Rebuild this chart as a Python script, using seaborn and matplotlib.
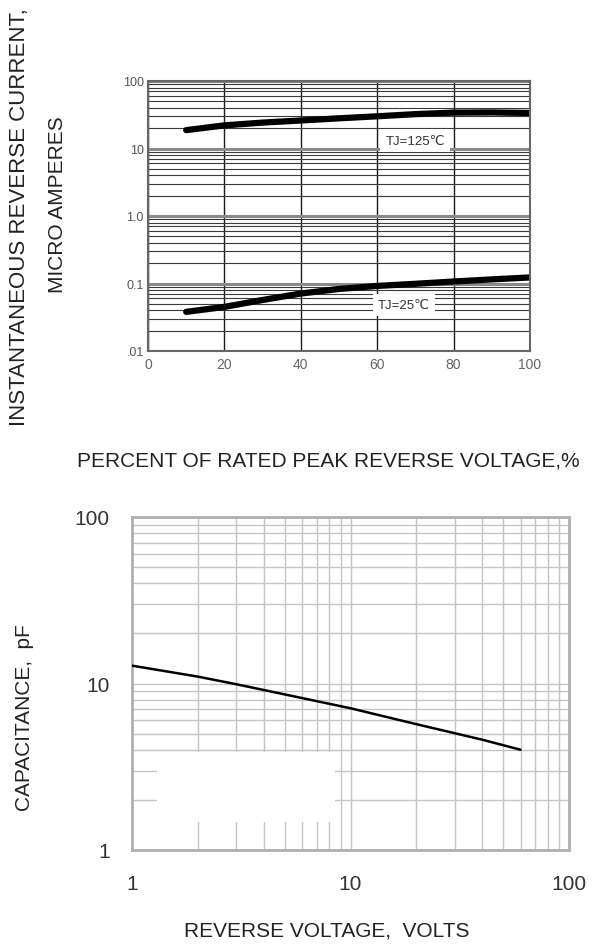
import numpy as np
import pandas as pd
import matplotlib
matplotlib.use("Agg")
import matplotlib.pyplot as plt
import matplotlib.ticker as mticker
from matplotlib.patches import Rectangle
import seaborn as sns

# ---------------- data ----------------
pct_voltage = [10, 20, 30, 40, 50, 60, 70, 80, 90, 100]
ir_125c = [18.7, 22.0, 24.2, 26.0, 28.0, 30.0, 32.3, 34.0, 34.2, 33.6]
ir_25c = [0.038, 0.045, 0.057, 0.071, 0.083, 0.092, 0.099, 0.107, 0.115, 0.123]

rev_voltage = [1, 2, 3, 5, 10, 20, 40, 60]
capacitance = [12.8, 11.0, 9.9, 8.6, 7.1, 5.7, 4.6, 4.0]

top_yticks = [0.01, 0.1, 1, 10, 100]
top_yticklabels = [".01", "0.1", "1.0", "10", "100"]
top_xticks = [0, 20, 40, 60, 80, 100]
bot_ticks = [1, 10, 100]
bot_ticklabels = ["1", "10", "100"]

label_125 = "TJ=125\u2103"
label_25 = "TJ=25\u2103"

# ---------------- style ----------------
sns.set_theme(style="white")
plt.rcParams["font.family"] = ["Liberation Sans", "DejaVu Sans"]

W, H = 594, 945
fig = plt.figure(figsize=(W / 100, H / 100), dpi=100)


def ax_rect(x0, y0, x1, y1):
    return [x0 / W, 1 - y1 / H, (x1 - x0) / W, (y1 - y0) / H]


# ---------------- top chart ----------------
ax1 = fig.add_axes(ax_rect(148, 82, 530, 352))
ax1.set_yscale("log")
ax1.set_xlim(0, 100)
ax1.set_ylim(0.01, 100)
ax1.set_axisbelow(True)

ax1.yaxis.set_major_locator(mticker.FixedLocator(top_yticks))
ax1.yaxis.set_major_formatter(mticker.FixedFormatter(top_yticklabels))
ax1.yaxis.set_minor_locator(mticker.LogLocator(base=10, subs=np.arange(2, 10)))
ax1.yaxis.set_minor_formatter(mticker.NullFormatter())
ax1.xaxis.set_major_locator(mticker.FixedLocator(top_xticks))

ax1.grid(True, which="major", axis="y", color="#8a8a8a", lw=2.2)
ax1.grid(True, which="minor", axis="y", color="#3a3a3a", lw=0.8)
ax1.grid(True, which="major", axis="x", color="#1a1a1a", lw=1.0)
for s in ax1.spines.values():
    s.set_color("#666666")
    s.set_linewidth(1.5)
ax1.tick_params(axis="both", which="both", length=0)
ax1.tick_params(axis="y", labelsize=9, labelcolor="#555555", pad=3)
ax1.tick_params(axis="x", labelsize=10, labelcolor="#666666", pad=4)

df_top = pd.DataFrame({
    "pct": pct_voltage * 2,
    "ir": ir_125c + ir_25c,
    "tj": ["125"] * len(pct_voltage) + ["25"] * len(pct_voltage),
})
sns.lineplot(data=df_top, x="pct", y="ir", units="tj", estimator=None,
             color="black", lw=4.5, ax=ax1, legend=False,
             solid_capstyle="round", solid_joinstyle="round")
ax1.set_xlabel("")
ax1.set_ylabel("")

box = dict(boxstyle="square,pad=0.4", fc="white", ec="none")
ax1.text(70, 13.1, label_125, fontsize=9.5, color="#333333", ha="center",
         va="center", bbox=box, family=["Liberation Sans", "DejaVu Sans"])
ax1.text(67, 0.048, label_25, fontsize=9.5, color="#333333", ha="center",
         va="center", bbox=box, family=["Liberation Sans", "DejaVu Sans"])

# ---------------- bottom chart ----------------
ax2 = fig.add_axes(ax_rect(132, 518, 569, 851))
ax2.set_xscale("log")
ax2.set_yscale("log")
ax2.set_xlim(1, 100)
ax2.set_ylim(1, 100)
ax2.set_axisbelow(True)

for axis in (ax2.xaxis, ax2.yaxis):
    axis.set_major_locator(mticker.FixedLocator(bot_ticks))
    axis.set_major_formatter(mticker.FixedFormatter(bot_ticklabels))
    axis.set_minor_locator(mticker.LogLocator(base=10, subs=np.arange(2, 10)))
    axis.set_minor_formatter(mticker.NullFormatter())

ax2.grid(True, which="both", color="#c4c4c4", lw=1.0)
for s in ax2.spines.values():
    s.set_color("#b0b0b0")
    s.set_linewidth(2.0)
ax2.tick_params(axis="both", which="both", length=0)
ax2.tick_params(axis="both", labelsize=15, labelcolor="#333333")
ax2.tick_params(axis="y", pad=16)
ax2.tick_params(axis="x", pad=17)

# erased area visible in the reference scan
ax2.add_patch(Rectangle((1.3, 1.47), 8.5 - 1.3, 3.86 - 1.47, fc="white",
                        ec="none", zorder=1))

df_bot = pd.DataFrame({"v": rev_voltage, "c": capacitance})
sns.lineplot(data=df_bot, x="v", y="c", color="black", lw=1.8, ax=ax2,
             zorder=3)
ax2.set_xlabel("")
ax2.set_ylabel("")

# ---------------- axis titles ----------------
tc = "#222222"
fig.text(20 / W, 1 - 217 / H, "INSTANTANEOUS REVERSE CURRENT,", rotation=90,
         ha="center", va="center", fontsize=16, color=tc)
fig.text(58 / W, 1 - 205 / H, "MICRO AMPERES", rotation=90,
         ha="center", va="center", fontsize=15, color=tc)
fig.text(328 / W, 1 - 461 / H, "PERCENT OF RATED PEAK REVERSE VOLTAGE,%",
         ha="center", va="center", fontsize=15, color=tc)
fig.text(25 / W, 1 - 718 / H, "CAPACITANCE,  pF", rotation=90,
         ha="center", va="center", fontsize=15, color=tc)
fig.text(327 / W, 1 - 931 / H, "REVERSE VOLTAGE,  VOLTS",
         ha="center", va="center", fontsize=15, color=tc)

fig.savefig("out.png", dpi=100, facecolor="white")
